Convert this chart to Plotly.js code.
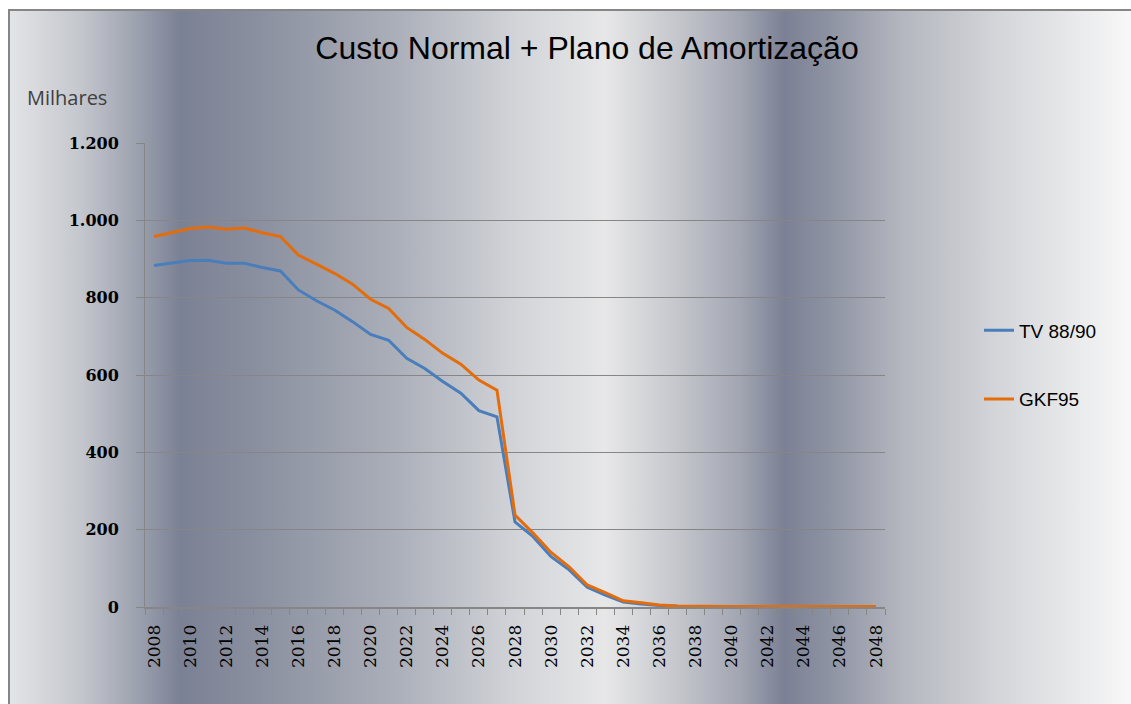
<!DOCTYPE html>
<html>
<head>
<meta charset="utf-8">
<script src="https://cdn.plot.ly/plotly-3.0.1.min.js"></script>
<style>html,body{margin:0;padding:0;background:#fff;}#chart{width:1131px;height:704px;}</style>
</head>
<body>
<div id="chart"></div>
<script>
// ---- data ----
const years = [2008,2009,2010,2011,2012,2013,2014,2015,2016,2017,2018,2019,2020,2021,2022,2023,2024,2025,2026,2027,2028,2029,2030,2031,2032,2033,2034,2035,2036,2037,2038,2039,2040,2041,2042,2043,2044,2045,2046,2047,2048];
const tv8890 = [883,889,896,897,889,889,878,869,820,792,768,738,705,690,643,617,583,553,508,492,220,182,130,96,51,31,13,8,4,2,1.2,0.8,0.6,0.5,0.4,0.3,0.3,0.2,0.2,0.2,0.2];
const gkf95  = [958,968,979,983,977,980,968,958,910,887,863,835,796,772,723,692,656,628,587,561,238,191,141,104,57,37,16,11,5,2.5,1.5,1.2,1,1,1,1,1,1,1,1,1];
const seriesNames = ['TV 88/90', 'GKF95'];
const tickYears = [2008,2010,2012,2014,2016,2018,2020,2022,2024,2026,2028,2030,2032,2034,2036,2038,2040,2042,2044,2046,2048];
const yTicks = [0,200,400,600,800,1000,1200];

// ---- background gradient (metallic bands) ----
const stops = [
  [0,'#e3e4e6'],[0.0624,'#c4c7cd'],[0.1168,'#9a9fad'],[0.1517,'#7b8194'],[0.223,'#8b90a0'],
  [0.348,'#acb0ba'],[0.455,'#d3d5d9'],[0.531,'#e7e7e8'],[0.598,'#c3c5cb'],[0.651,'#a2a6b2'],
  [0.691,'#7b8094'],[0.731,'#8e93a3'],[0.794,'#b3b6be'],[0.883,'#d5d6da'],[1,'#f8f8f8']
];
const svg = '<svg xmlns="http://www.w3.org/2000/svg" width="1121" height="693" preserveAspectRatio="none" viewBox="0 0 1121 693">' +
  '<defs><linearGradient id="g" x1="0" y1="0" x2="1" y2="0">' +
  stops.map(s => '<stop offset="' + s[0] + '" stop-color="' + s[1] + '"/>').join('') +
  '</linearGradient></defs><rect width="1121" height="693" fill="url(#g)"/></svg>';
const bgSrc = 'data:image/svg+xml;base64,' + btoa(svg);

// plot area geometry (px) used to place the background in paper coords
const L = 145, R = 885, T = 143, B = 607;
const pw = R - L, ph = B - T;
const px2x = p => (p - L) / pw;
const py2y = p => (B - p) / ph;

const traces = [
  {x: years, y: tv8890, name: seriesNames[0], type: 'scatter', mode: 'lines', legendgroup: 'a',
   line: {color: '#4a7ebb', width: 3}},
  {x: years, y: gkf95, name: seriesNames[1], type: 'scatter', mode: 'lines', legendgroup: 'b',
   line: {color: '#e46c0a', width: 3}}
];

const layout = {
  width: 1131, height: 704,
  margin: {l: L, r: 1131 - R, t: T, b: 704 - B},
  paper_bgcolor: '#ffffff',
  plot_bgcolor: 'rgba(0,0,0,0)',
  separators: ',.',
  showlegend: true,
  title: {text: 'Custo Normal + Plano de Amortização', x: 0.519, xanchor: 'center', y: 0.932, yanchor: 'middle',
          font: {family: 'Liberation Sans, Arial, sans-serif', size: 32, color: '#000'}},
  xaxis: {
    range: [2007.5, 2048.5],
    tickmode: 'array', tickvals: tickYears, ticktext: tickYears.map(String),
    tickangle: -90,
    ticks: 'outside', ticklen: 6, tickcolor: 'rgba(0,0,0,0)',
    ticklabelstandoff: 3,
    minor: {ticks: 'outside', ticklen: 6, tickcolor: '#868686', tickwidth: 1, tick0: 2007.5, dtick: 1, showgrid: false},
    showgrid: false, zeroline: false,
    showline: true, linecolor: '#868686', linewidth: 2,
    tickfont: {family: 'DejaVu Serif, serif', size: 17, color: '#000'},
    fixedrange: true
  },
  yaxis: {
    range: [0, 1200],
    tickmode: 'array', tickvals: yTicks,
    tickformat: ',d',
    ticks: 'outside', ticklen: 8, tickcolor: '#868686',
    ticklabelstandoff: 14,
    showgrid: true, gridcolor: '#868686', gridwidth: 1,
    zeroline: false,
    showline: true, linecolor: '#868686', linewidth: 1,
    tickfont: {family: 'DejaVu Serif, serif', size: 16, color: '#000', weight: 'bold'},
    fixedrange: true
  },
  legend: {
    x: 1.127, xanchor: 'left', y: 0.637, yanchor: 'top',
    bgcolor: 'rgba(0,0,0,0)', borderwidth: 0,
    traceorder: 'grouped', tracegroupgap: 41,
    font: {family: 'Liberation Sans, Arial, sans-serif', size: 19, color: '#000'}
  },
  annotations: [
    {text: 'Milhares', xref: 'paper', yref: 'paper', x: px2x(25), y: py2y(97), xanchor: 'left', yanchor: 'middle',
     showarrow: false, font: {family: 'Open Sans, sans-serif', size: 20, color: '#404040'}}
  ],
  images: [
    {source: bgSrc, xref: 'paper', yref: 'paper', x: px2x(10), y: py2y(11), sizex: 1121 / pw, sizey: 693 / ph,
     xanchor: 'left', yanchor: 'top', sizing: 'stretch', layer: 'below'}
  ],
  shapes: [
    {type: 'rect', xref: 'paper', yref: 'paper', x0: px2x(9), y0: py2y(10), x1: px2x(1140), y1: py2y(720),
     line: {color: '#868686', width: 2}, fillcolor: 'rgba(0,0,0,0)', layer: 'below'}
  ],
  hovermode: false
};

Plotly.newPlot('chart', traces, layout, {displayModeBar: false, staticPlot: true});
</script>
</body>
</html>
